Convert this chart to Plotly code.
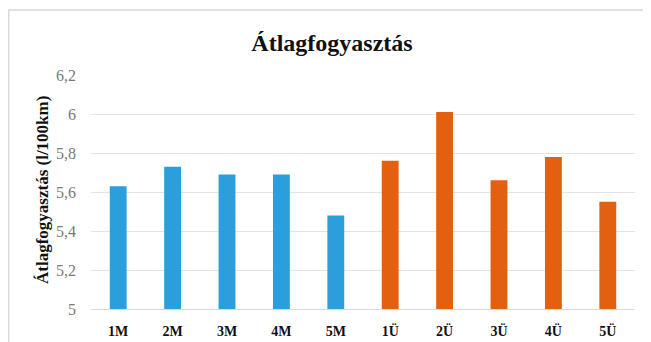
import plotly.graph_objects as go

categories = ["1M", "2M", "3M", "4M", "5M", "1Ü", "2Ü", "3Ü", "4Ü", "5Ü"]
values = [5.63, 5.73, 5.69, 5.69, 5.48, 5.76, 6.01, 5.66, 5.78, 5.55]
bar_colors = ["#2B9FDB"] * 5 + ["#E2600F"] * 5
y_ticks = [5, 5.2, 5.4, 5.6, 5.8, 6, 6.2]
y_tick_labels = ["5", "5,2", "5,4", "5,6", "5,8", "6", "6,2"]
y_base = 5

title_text = "Átlagfogyasztás"
y_title = "Átlagfogyasztás (l/100km)"

serif = "Liberation Serif, Times New Roman, serif"

fig = go.Figure(
    go.Bar(
        x=categories,
        y=[v - y_base for v in values],
        base=y_base,
        marker=dict(color=bar_colors, line=dict(width=0)),
        hovertext=[str(v) for v in values],
    )
)

# The page body adds an 8px offset, so the figure is 8px smaller than the window.
W, H = 643, 334
L, R, T, B = 83, 16, 67, 33
pw = W - L - R
ph = H - T - B

def px_x(p):
    return (p - L) / pw

def px_y(p):
    return (H - B - p) / ph

fig.update_layout(
    width=W,
    height=H,
    margin=dict(l=L, r=R, t=T, b=B, autoexpand=False),
    paper_bgcolor="white",
    plot_bgcolor="white",
    showlegend=False,
    bargap=0.69,
    separators=", ",
    title=dict(
        text="<b>" + title_text + "</b>",
        x=324 / W,
        xref="container",
        xanchor="center",
        y=1 - 35 / H,
        yref="container",
        yanchor="middle",
        font=dict(family=serif, size=24, color="#111111"),
    ),
    xaxis=dict(
        automargin=False,
        showgrid=False,
        showline=True,
        linecolor="#D9D9D9",
        linewidth=1,
        ticks="",
        ticklabelstandoff=9,
        tickfont=dict(family=serif, size=14, color="#111111"),
        tickprefix="<b>",
        ticksuffix="</b>",
    ),
    yaxis=dict(
        automargin=False,
        range=[5, 6.2],
        tickvals=y_ticks,
        ticktext=y_tick_labels,
        showgrid=True,
        gridcolor="#E3E3E3",
        gridwidth=1,
        zeroline=False,
        showline=False,
        ticks="",
        ticklabelstandoff=14,
        tickfont=dict(family=serif, size=16, color="#7A7A7A"),
    ),
    annotations=[
        dict(
            text="<b>" + y_title + "</b>",
            xref="paper",
            yref="paper",
            x=px_x(34),
            y=px_y(182),
            xanchor="center",
            yanchor="middle",
            textangle=-90,
            showarrow=False,
            font=dict(family=serif, size=17, color="#111111"),
        )
    ],
    shapes=[
        dict(
            type="rect",
            xref="paper",
            yref="paper",
            x0=px_x(0.75),
            x1=px_x(700),
            y0=px_y(400),
            y1=px_y(2),
            line=dict(color="#D9D9D9", width=1.5),
            fillcolor="rgba(0,0,0,0)",
            layer="below",
        )
    ],
)

fig.write_html("out.html")
